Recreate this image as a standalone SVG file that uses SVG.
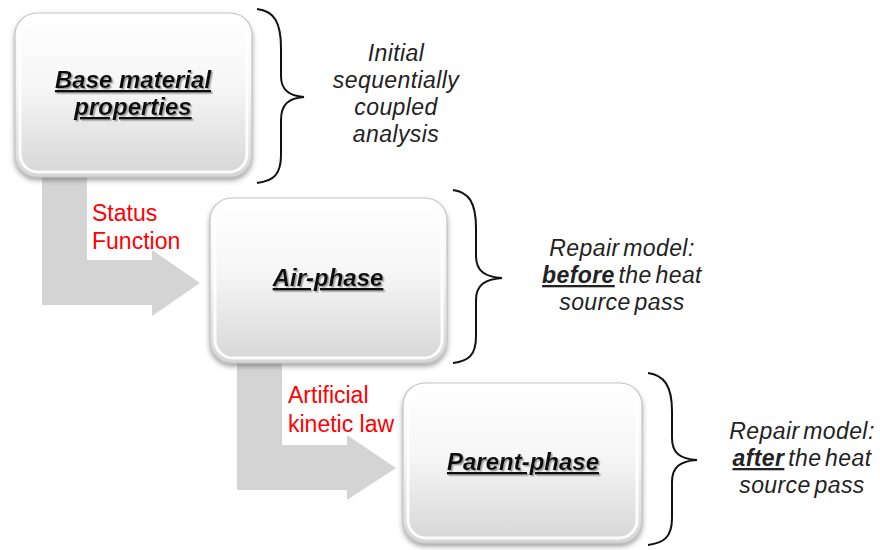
<svg xmlns="http://www.w3.org/2000/svg" width="880" height="550" viewBox="0 0 880 550">
<defs>
<linearGradient id="boxGrad" x1="0" y1="0" x2="0" y2="1">
<stop offset="0" stop-color="#ffffff"/>
<stop offset="0.45" stop-color="#f6f6f6"/>
<stop offset="1" stop-color="#d6d6d6"/>
</linearGradient>
<filter id="boxShadow" x="-10%" y="-10%" width="120%" height="125%">
<feDropShadow dx="0" dy="3" stdDeviation="2.5" flood-color="#555" flood-opacity="0.55"/>
</filter>
<filter id="textShadow" x="-10%" y="-30%" width="120%" height="160%">
<feDropShadow dx="1.5" dy="1.5" stdDeviation="0.6" flood-color="#999" flood-opacity="0.9"/>
</filter>
</defs>
<style>
.arrow{fill:#d4d4d4;stroke:none}
.box{fill:url(#boxGrad);stroke:#c4c4c4;stroke-width:1.2;filter:url(#boxShadow)}
.bevel{fill:none;stroke:#ffffff;stroke-width:3;stroke-opacity:0.9}
.lbl{font-family:"Liberation Sans",Arial,sans-serif;font-size:24px;font-weight:bold;font-style:italic;fill:#111;text-anchor:middle;text-decoration:underline;filter:url(#textShadow)}
.note{font-family:"Liberation Sans",Arial,sans-serif;font-size:23px;font-style:italic;letter-spacing:0.4px;word-spacing:-3px;fill:#222;text-anchor:middle}
.red{font-family:"Liberation Sans",Arial,sans-serif;font-size:23px;fill:#ff0000}
.brace{fill:none;stroke:#111;stroke-width:2}
.em{font-weight:bold;text-decoration:underline}
</style>
<rect width="880" height="550" fill="#ffffff"/>
<g id="connectors">
<polygon class="arrow" points="42,170 87,170 87,260 152,260 152,250 200,283 152,316 152,305 42,305"/>
<polygon class="arrow" points="237,355 282,355 282,445 347,445 347,435 396,468 347,500 347,490 237,490"/>
<text class="red" x="92" y="221">Status</text>
<text class="red" x="92" y="249">Function</text>
<text class="red" x="288" y="403">Artificial</text>
<text class="red" x="288" y="432">kinetic law</text>
</g>
<g id="node-base">
<rect class="box" x="15" y="13" width="237" height="164" rx="22"/>
<rect class="bevel" x="20" y="18" width="227" height="154" rx="18"/>
<text class="lbl" x="133" y="88">Base material</text>
<text class="lbl" x="133" y="115">properties</text>
</g>
<g id="node-air">
<rect class="box" x="210" y="198" width="237" height="165" rx="22"/>
<rect class="bevel" x="215" y="203" width="227" height="155" rx="18"/>
<text class="lbl" x="328" y="286">Air-phase</text>
</g>
<g id="node-parent">
<rect class="box" x="403" y="383" width="239" height="160" rx="22"/>
<rect class="bevel" x="408" y="388" width="229" height="150" rx="18"/>
<text class="lbl" x="523" y="470">Parent-phase</text>
</g>
<g id="brace-1">
<path class="brace" d="M257,9 C274,11 281,22 281,48 L281,76 C281,90 289,96 304,97 C289,98 281,104 281,120 L281,155 C281,174 274,181 257,183"/>
<text class="note" x="396" y="61">Initial</text>
<text class="note" x="396" y="88">sequentially</text>
<text class="note" x="396" y="115">coupled</text>
<text class="note" x="396" y="142">analysis</text>
</g>
<g id="brace-2">
<path class="brace" d="M453,190 C469,192 476,203 476,228 L476,256 C476,271 485,277 502,278 C485,279 476,285 476,300 L476,336 C476,355 469,361 453,363"/>
<text class="note" x="622" y="256">Repair model:</text>
<text class="note" x="622" y="283"><tspan class="em">before</tspan> the heat</text>
<text class="note" x="622" y="310">source pass</text>
</g>
<g id="brace-3">
<path class="brace" d="M648,373 C664,375 672,386 672,411 L672,438 C672,453 680,459 697,460 C680,461 672,467 672,482 L672,518 C672,537 664,543 648,545"/>
<text class="note" x="802" y="439">Repair model:</text>
<text class="note" x="802" y="466"><tspan class="em">after</tspan> the heat</text>
<text class="note" x="802" y="493">source pass</text>
</g>
</svg>
